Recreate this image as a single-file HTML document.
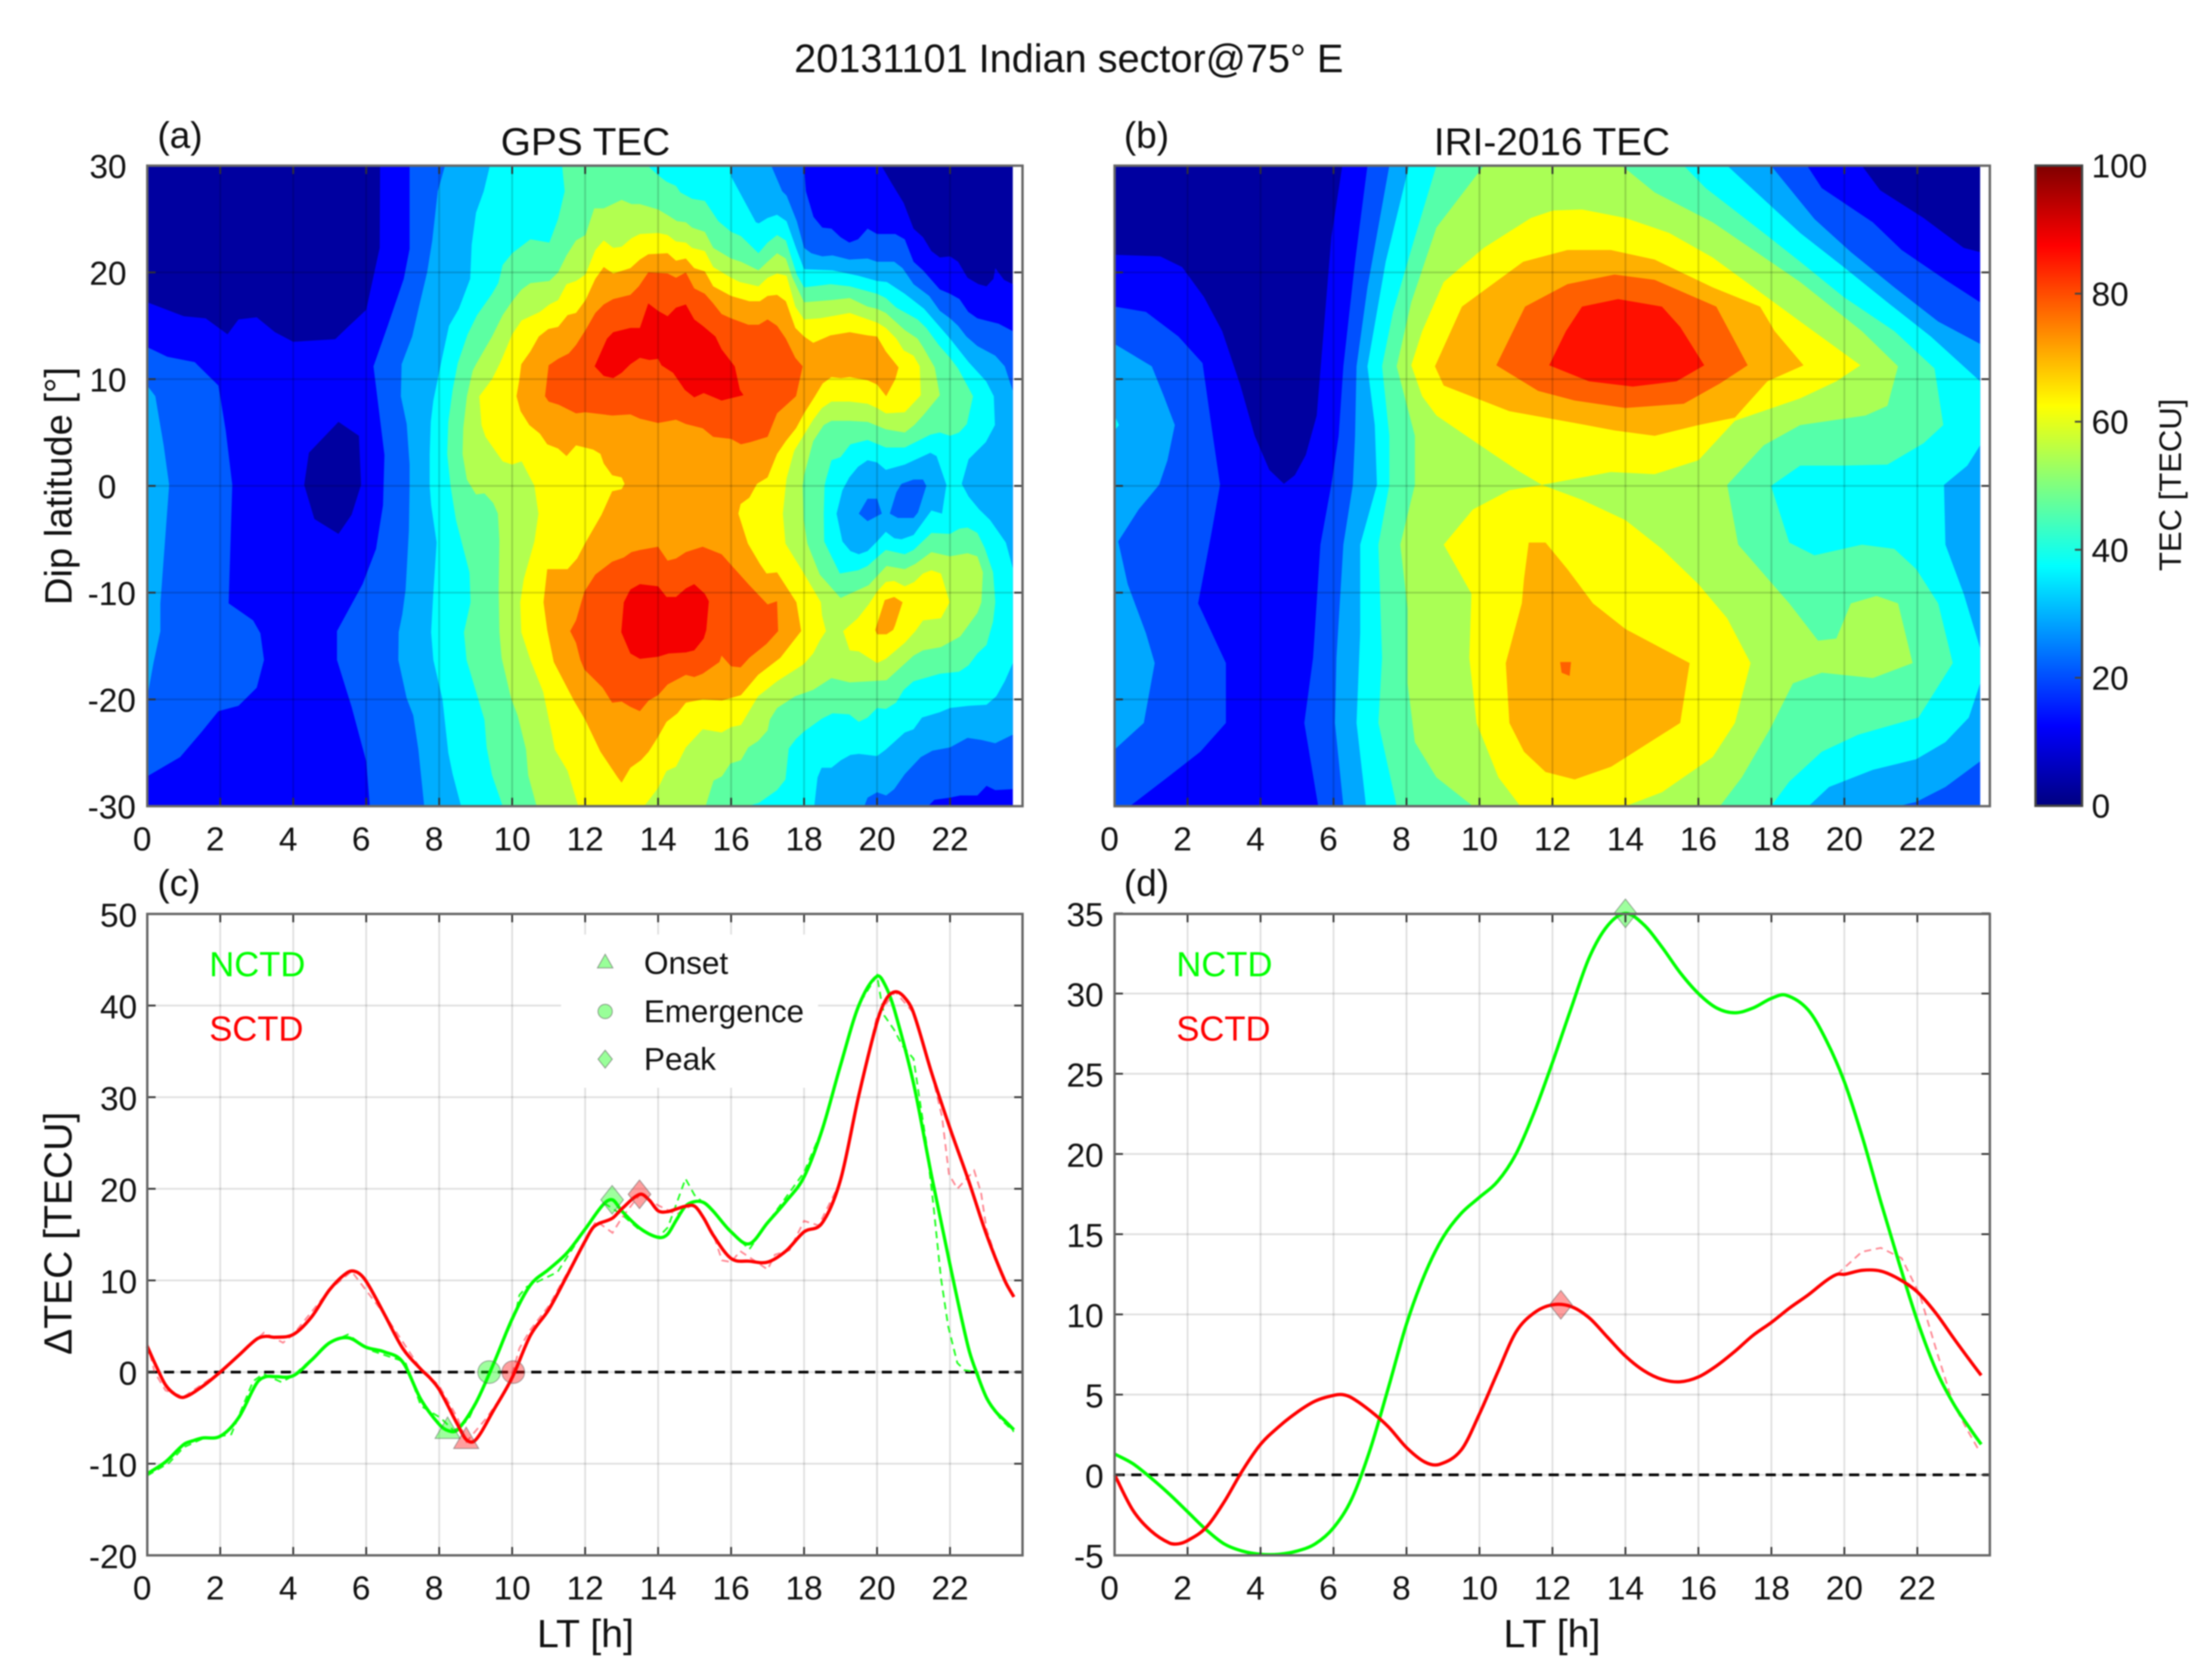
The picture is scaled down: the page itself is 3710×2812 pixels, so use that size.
<!DOCTYPE html>
<html>
<head>
<meta charset="utf-8">
<title>20131101 Indian sector TEC</title>
<style>
html,body{margin:0;padding:0;background:#fff;}
svg{display:block;filter:blur(1px);}
text{font-family:"Liberation Sans",sans-serif;fill:#111;}
</style>
</head>
<body>
<svg id="figure" width="3710" height="2812" viewBox="0 0 3710 2812">
<defs>
<linearGradient id="jetGradient" x1="0" y1="1" x2="0" y2="0">
<stop offset="0" stop-color="#000080"/><stop offset="0.125" stop-color="#0000ff"/><stop offset="0.375" stop-color="#00ffff"/><stop offset="0.625" stop-color="#ffff00"/><stop offset="0.875" stop-color="#ff0000"/><stop offset="1" stop-color="#800000"/>
</linearGradient>
</defs>
<rect width="3710" height="2812" fill="#fff"/>
<text x="1332" y="121" font-size="66.5" fill="#000">20131101 Indian sector@75° E</text>

<g id="panelA"></g>
<g id="panelB"></g>
<g id="panelC"></g>
<g id="panelD"></g>

<text x="264" y="248" font-size="62">(a)</text>
<text x="1885" y="248" font-size="62">(b)</text>
<text x="264" y="1502" font-size="62">(c)</text>
<text x="1885" y="1502" font-size="62">(d)</text>
<text x="982" y="260" font-size="65" text-anchor="middle">GPS TEC</text>
<text x="2603" y="260" font-size="65" text-anchor="middle">IRI-2016 TEC</text>
<text font-size="64" text-anchor="middle" transform="translate(120,815) rotate(-90)">Dip latitude [°]</text>
<text font-size="65.5" text-anchor="middle" transform="translate(120,2068) rotate(-90)">ΔTEC [TECU]</text>
<text x="982" y="2762" font-size="66" text-anchor="middle">LT [h]</text>
<text x="2603" y="2762" font-size="66" text-anchor="middle">LT [h]</text>

<rect x="3414" y="277.7" width="78" height="1073.5" fill="url(#jetGradient)" stroke="#444" stroke-width="4"/>
<g id="colorbarTicks"></g>
<text font-size="52" text-anchor="middle" transform="translate(3658,813) rotate(-90)">TEC [TECU]</text>

<g>
<text x="351" y="1637" font-size="58" style="fill:#00ff00">NCTD</text>
<text x="351" y="1745" font-size="58" style="fill:#ff0000">SCTD</text>
<text x="1973" y="1637" font-size="58" style="fill:#00ff00">NCTD</text>
<text x="1973" y="1745" font-size="58" style="fill:#ff0000">SCTD</text>
</g>
<g>
<polygon points="1015,1600 1028,1623 1002,1623" fill="rgba(0,255,0,.4)" stroke="rgba(90,90,90,.6)" stroke-width="1.5"/>
<circle cx="1015" cy="1696" r="12" fill="rgba(0,255,0,.4)" stroke="rgba(90,90,90,.6)" stroke-width="1.5"/>
<polygon points="1015,1761 1027,1776 1015,1791 1003,1776" fill="rgba(0,255,0,.4)" stroke="rgba(90,90,90,.6)" stroke-width="1.5"/>
<text x="1080" y="1633" font-size="53">Onset</text>
<text x="1080" y="1714" font-size="52.5">Emergence</text>
<text x="1080" y="1794" font-size="53">Peak</text>
</g>
</svg>
<script>
// ---------- axis tick values ----------
const ltTicks = [0,2,4,6,8,10,12,14,16,18,20,22];
const latTicks = [-30,-20,-10,0,10,20,30];
const deltaTicksC = [-20,-10,0,10,20,30,40,50];
const deltaTicksD = [-5,0,5,10,15,20,25,30,35];
const colorbarValues = [0,20,40,60,80,100];

// ---------- contour lines: rings of LT [h], latitude [deg] ----------
const gpsLevel1 = [
 [0,17.2,1,15.9,1.6,15.7,2.2,14.2,2.5,15.6,3,15.8,3.5,14.4,4,13.5,5.15,13.75,5.5,14.9,6,16.5,6.37,22.3,6.38,30,20.12,30,20.41,28.3,20.73,26.5,21,24.1,21.26,23.3,21.49,22,21.72,21.4,22,21.5,22.22,21,22.48,19.5,22.78,18.9,23,18.7,23.19,19.4,23.24,20.4,23.48,19.3,23.72,18.9,23.72,-30,0,-30],
 [5.24,6,5.8,4.7,5.86,0.1,5.6,-2.7,5.24,-4.5,4.58,-3.1,4.3,0.1,4.43,3.1]
];
const gpsLevel2 = [
 [0,13,0.55,12.1,1.3,11.6,1.95,9.4,2.15,5.2,2.33,0.1,2.23,-11,2.9,-12.6,3.1,-13.8,3.2,-16.3,3,-18.9,2.5,-20.6,1.95,-21.1,1.5,-23,0.9,-25.4,0,-27.2],
 [7.19,30,7.19,22.2,7.03,19.4,6.59,15,6.2,11.2,6.5,2.9,6.46,-1.8,6.27,-5.9,5.9,-9.2,5.2,-13.6,5.2,-16.3,5.6,-20.7,6,-25.8,6.1,-30,21.4,-30,21.57,-29.4,22,-29.2,22.28,-29,22.75,-29,23,-28.1,23.24,-28.5,23.72,-28.4,23.72,14.5,23.33,15.2,22.75,15.7,22.5,16.3,22.26,17.5,22,18,21.72,18.4,21.26,20.2,21,21,20.76,23.1,20.5,23.6,20,23.6,19.74,24.1,19.48,23.1,19.24,22.8,19,23.3,18.75,24.1,18.5,24.2,18.26,25.2,18.05,27.6,18,30]
];
const gpsLevel3 = [
 [0,9.4,0.22,8.4,0.45,3.8,0.6,0.1,0.36,-11,0.36,-13.6,0.17,-16.6,0,-19.8],
 [8.16,30,7.96,27.6,7.81,23,7.67,20,7.46,17,7.26,14,6.97,11.4,6.95,8.4,7.11,5.8,7.19,2,7.19,0,7.17,-4.2,7.08,-9.7,6.99,-12,6.89,-13.7,6.88,-16.3,7.11,-19.9,7.29,-21.5,7.43,-24.7,7.59,-30,19.65,-30,19.74,-29.2,20,-28.7,20.25,-29,20.47,-28.4,20.76,-27,21.2,-25.4,21.52,-24.8,22,-24.5,22.48,-23.6,22.86,-23.8,23.24,-24.1,23.72,-23.3,23.72,8.9,23.5,11.2,23.24,12.2,22.75,13.1,22.45,14,22.22,15,22,15.7,21.72,16.4,21.43,17.8,21,18.9,20.82,19.8,20.7,20.4,20.47,21,20,21,19.74,21.3,19.24,21.2,18.78,21.6,18.5,21.5,18.2,21.8,18,22.3,17.8,24.8,17.52,27.2,17.4,27.6,17.1,30],
 [19.74,-1.2,20,-1.2,20.13,-2.6,19.74,-3.3,19.5,-2.6],
 [20.67,0.2,21,0.6,21.26,0.6,21.35,0,21.12,-2.5,21,-3,20.57,-3,20.35,-2.6,20.53,-0.6]
];
const gpsLevel4 = [
 [9.39,30,9.22,27.6,9.01,25.6,8.89,22.6,8.85,19.4,8.54,16.6,8.27,15,8.08,12,7.96,10,7.84,8,7.77,6,7.74,3,7.74,0,7.78,-1.8,7.93,-5.3,7.84,-10,7.78,-13.7,7.84,-16.3,8.09,-20,8.25,-25,8.37,-27,8.6,-30,18.28,-30,18.37,-27.3,18.48,-26.4,18.75,-26.4,19.01,-25.7,19.27,-25.2,19.5,-25.1,20,-25.3,20.24,-24.7,20.76,-23.1,21,-22.8,21.23,-21.7,21.72,-21.2,22,-20.8,22.51,-20.6,23,-20.5,23.27,-19.7,23.5,-18.3,23.72,-16.6,23.72,-7.7,23.53,-5.3,23.1,-3.2,22.8,-2.2,22.51,-1,22.32,0.2,22.51,2.5,22.98,4.1,23.23,5.7,23.2,8.4,22.99,9.8,22.51,11.6,22,13.8,21.29,16.6,20.76,18,20.27,19.1,20,19.2,19.48,19.7,18.78,20.2,18,20.3,17.79,22.2,17.52,24.8,17.26,25.4,17,25.1,16.76,24.6,16.68,24.7,16,29,16,30],
 [19.74,2.4,20,2.2,20.24,1.5,20.76,2,21.46,3.1,21.63,2.8,21.9,0.1,21.78,-2.6,21.49,-2.3,21,-4.6,20.67,-5,20.47,-4.9,20.24,-4.3,20,-5.2,19.74,-6.1,19.5,-6.4,19.27,-6.1,19.05,-5.2,18.89,-2.6,19.05,-0.4,19.24,0.8,19.48,1.8]
];
const gpsLevel5 = [
 [11.37,30,11.44,27.6,11.26,25,11.02,22.8,10.5,23.1,10,21.8,9.74,20.7,9.62,19,9.45,18,9.04,16,8.78,14.2,8.51,11.5,8.37,9,8.25,6,8.22,3,8.31,0,8.46,-3.2,8.83,-8.1,8.86,-10.9,8.68,-13.7,8.75,-16.3,9.24,-21.9,9.3,-24.5,9.45,-27.1,9.74,-30,16.44,-30,16.76,-29.7,17.26,-28.5,17.49,-27.5,17.58,-24.6,17.78,-23.7,18,-23,18.49,-21.8,18.78,-21.3,19.24,-21.4,19.5,-22.1,19.74,-21.7,20,-20.8,20.24,-20.9,20.52,-20.3,20.73,-19.1,21,-18.3,21.72,-17.6,22.25,-17.4,22.51,-16.8,22.75,-15.7,23,-14.9,23.18,-12.7,23.24,-10.9,23.18,-8.1,22.95,-5.8,22.75,-4.4,22.48,-3.9,22.26,-4,22,-4.5,21.49,-4.4,21,-6,20.76,-6.4,20.24,-6,20,-6.7,19.74,-7.5,19.48,-7.9,18.98,-8.2,18.55,-5.2,18.54,-2.6,18.56,0,18.6,0.6,18.75,2.4,19,2.7,19.27,3.9,19.74,4.3,20.24,3.6,20.76,3.6,21.46,4.8,21.72,5,22,4.7,22.25,5,22.46,5.8,22.63,8.4,22.22,11,22,12,21.69,13.2,21.35,14.8,21.11,15.6,20.53,16.7,20.24,17.6,20,18,19.25,18.7,18.73,18.9,18,18.6,17.8,19.8,17.5,23,17.26,23.5,17,22.8,16.75,21.8,16.27,23.4,16,23.8,15.65,24.8,15.28,26.7,14.93,26.9,14.61,27.5,14.49,28.1,14.23,28.5,14,29.1,13.71,30]
];
const gpsLevel6 = [
 [12.25,26,12.01,23.5,11.75,23,11.49,21.6,11.26,20,11.02,19.2,10.5,19,10.26,18.4,10,17.3,9.74,16,9.45,14,9.01,11.4,8.92,10.8,8.76,8.4,8.66,5.4,8.64,3,8.76,0.6,9.01,-0.8,9.24,-0.7,9.48,-1.6,9.61,-2.6,9.65,-5.1,9.63,-9.9,9.65,-13.7,9.71,-16.1,9.97,-19.9,10.15,-21.5,10.38,-24.7,10.44,-27.1,10.67,-30,15.3,-30,15.52,-27.6,15.75,-27.2,15.98,-26,16.27,-25.7,16.47,-24.5,16.74,-23.9,17,-22.9,17.06,-21.9,17.26,-20.8,17.76,-19.7,18.25,-19.1,18.75,-18,19.25,-18.4,20.26,-18.2,21,-15.9,21.26,-15.4,21.75,-15.1,22.28,-14.1,22.75,-11.9,22.86,-10.9,22.9,-8.1,22.75,-6.6,22.48,-6.3,22,-6.6,21.49,-6.2,21.05,-7.3,20.76,-7.8,20.26,-7.5,19.77,-9.3,19,-10.5,18.43,-8.3,18.09,-5.4,17.99,-3.2,17.96,0,18,1,18.25,4.2,18.54,5.7,18.75,6.1,19.25,6.1,19.74,6,20.24,5.3,20.76,5,21.02,5.7,21.26,6.6,21.72,8.5,21.58,11.1,21.26,13,21.11,13.8,20.76,14.6,20.24,16.2,20,16.6,19.74,16.8,19.25,17.6,18.73,17.4,18,17.2,17.67,19.6,17.5,21.3,17.26,21.8,17,21,16.75,20.2,16.27,21,16,21.3,15.51,22.3,15.28,23.8,14.93,24.2,14.76,24.7,14.52,24.8,14.29,25.3,14,25.9,13.5,26.4,13.27,26.4,13,26.8,12.51,26]
];
const gpsLevel7 = [
 [12.28,22.1,12.01,19.8,11.75,19.2,11.49,18.9,11.26,17.4,11.02,17,10.76,16.3,10.26,15.5,10,14.2,9.68,11.6,9.45,10,9.1,8.4,9.16,5.7,9.27,4.6,9.74,2.3,10,2,10.26,2.3,10.61,0,10.72,-2.6,10.61,-5.2,10.32,-8.7,10.22,-10.9,10.25,-13.7,10.5,-16.3,10.85,-19.3,11.08,-23.1,11.17,-24.7,11.52,-26.7,11.81,-30,13.62,-30,14,-28.3,14.23,-26.7,14.49,-26.3,14.76,-24.5,15.22,-22.8,15.74,-23.1,16,-22.6,16.27,-22.4,16.74,-19.7,17.26,-18.3,17.99,-16.7,18.25,-15.7,18.43,-14.5,18.6,-13.6,18.49,-12.1,18.46,-10.9,17.96,-8,17.49,-5.4,17.42,-2.6,17.49,-0.2,17.52,0.7,17.73,3.3,18,4.8,18.25,6.2,18.49,7.3,18.75,7.9,19.25,7.9,19.74,7.7,20,7.3,20.24,6.8,20.76,6.9,21.2,8.5,21.17,11.2,21,12.2,20.73,12.7,20.53,13.8,20.24,14.8,20,15.3,19.25,16.2,18.43,15.7,18,15.6,17.76,16.8,17.52,19.7,17.26,19.9,17,19.5,16.75,18.7,16.24,19.1,16,19.5,15.51,20.5,15.28,22,14.93,22.3,14.76,22.8,14.49,22.9,14.26,23.5,14,23.7,13.5,23.6,13.27,23.2,13,22.4,12.77,22.3,12.51,23],
 [19.07,-13.6,19.25,-15.4,19.5,-15.5,20,-16.6,20.24,-16.2,20.76,-14.7,21.05,-13.6,21.26,-12.6,21.75,-12.4,21.99,-10.9,21.75,-8.2,21.49,-7.9,21.26,-8.2,21.02,-9,20.76,-9.4,20.47,-8.9,20.24,-9,20,-9.9,19.77,-11.1,19.47,-12.4]
];
const gpsLevel8 = [
 [12.51,20.5,12.28,19.4,12.01,17.4,11.75,16.2,11.52,16,11.26,14.9,10.99,14.7,10.73,14,10.5,12.6,10.25,11.4,10.2,10,10.12,8.4,10.23,7,10.47,5.7,10.76,4.9,10.96,3.9,11.26,3.5,11.49,2.8,11.75,3.8,12.22,3.4,12.42,3,12.51,2.1,12.74,1,13,0.8,13.08,0.2,13,-0.3,12.74,-0.5,12.45,-2.7,12.01,-5.3,11.78,-6.8,11.52,-7.8,10.96,-7.8,10.86,-10.9,10.96,-13.5,11.14,-16.5,11.69,-20.1,12,-21.9,12.42,-24.9,12.89,-27.3,13,-27.8,13.24,-26.4,13.53,-25.7,13.74,-24.9,14,-23.5,14.23,-22.1,14.53,-21.3,14.76,-20.3,15.22,-20,15.75,-20.1,16.27,-19.6,16.74,-17.7,17.35,-16.1,17.92,-13.6,17.79,-10.9,17.26,-8.1,16.97,-8.2,16.79,-7.3,16.46,-5.4,16.2,-2.6,16.26,-1.7,16.5,-1.1,16.71,0.2,17,0.8,17.26,3,17.5,4.2,17.78,5.4,18,6.8,18.28,8.3,18.51,9.6,18.75,10.2,19.01,10.1,19.25,10.2,19.74,9.9,20,9.5,20.25,8.4,20.5,10,20.59,11.1,20.24,12.6,20,14,19.74,14.1,19.25,14.4,18.72,14.1,18.25,13.4,18,14,17.76,14.8,17.5,17.3,17.26,17.9,17,17.8,16.79,17.3,16.5,17.3,16,17.8,15.51,18.7,15.28,20.1,14.99,20.4,14.76,21.3,14.49,21.1,14.26,21.8,13.73,21.7,13.5,21.2,13.24,20.4,12.77,19.9],
 [20.21,-10.7,20.47,-10.4,20.7,-10.9,20.49,-13.1,20.44,-13.5,20.26,-13.9,20,-13.9,19.95,-13.5]
];
const gpsLevel9 = [
 [11,11.3,11.26,11.9,11.55,12.4,11.75,13.2,12.01,14.6,12.28,16.2,12.51,17,12.77,17.5,13.24,17.9,13.47,18.7,13.73,20,14.26,19.9,14.49,19.5,14.76,20,14.99,18.5,15.28,18,15.51,17.1,15.74,16.1,16,15.7,16.47,15.1,16.76,15.1,17,15.6,17.26,15,17.5,13.8,17.76,12,17.96,11.2,17.78,8.4,17.26,6.8,17,4.6,16.53,4.1,16.27,3.9,16,4.4,15.51,4.6,15.22,5.4,14.76,5.8,14.49,6.2,14,5.9,13.5,6.3,13.24,6.7,12.74,6.6,12,6.9,11.75,6.8,11.28,7.6,11,7.9,10.9,8.4],
 [14,-5.7,14.26,-7,14.49,-6.8,14.76,-6.2,15.22,-5.7,15.74,-6.4,16,-7.4,16.5,-9.3,17,-11.1,17.26,-10.8,17.29,-13.6,16.97,-14.8,16.5,-16.1,16.26,-17,16,-16.9,15.74,-15.9,15.68,-16.5,15.22,-17.6,14.99,-17.9,14.76,-17.7,14.26,-18.6,14,-19.6,13.74,-20.1,13.5,-21.1,13.24,-20.7,13,-20.2,12.74,-20.3,12.48,-18.9,11.98,-17.2,11.87,-16.3,11.75,-14.7,11.59,-13.6,11.75,-12.6,11.98,-9.9,12.28,-8.3,12.74,-7.1,13.06,-6.7,13.27,-6.2,13.5,-6]
];
const gpsLevel10 = [
 [12.26,11.2,12.6,13.8,12.77,14.4,13.24,14.8,13.5,14.8,13.73,17.1,14,16.4,14.26,15.9,14.49,16.7,14.76,17,14.99,15.6,15.22,15,15.57,14,15.74,12.8,16.1,11.2,16.24,9,16.34,8.5,15.74,8,15.25,8.7,14.99,8.3,14.73,9,14.41,10.6,14.09,11.3,14,11.9,13.76,11.8,13.5,12,13.24,11.4,13,10.6,12.77,10.1,12.51,10.3],
 [13.5,-9.2,14,-9.4,14.23,-10.4,14.49,-10.4,14.76,-9.6,14.99,-9.2,15.28,-10.1,15.39,-10.8,15.32,-13.5,15.25,-14.3,14.99,-15.4,14.76,-15.6,14.29,-15.7,14,-16,13.5,-16.2,13.24,-15.7,12.99,-13.7,13.06,-10.9,13.24,-9.7]
];

const iriLevel1 = [
 [0,21.65,1.25,21.5,1.85,20.5,2.45,17.7,2.95,14.5,3.45,9.4,3.84,4.7,4.24,1.5,4.64,0.2,4.94,1,5.24,2.9,5.54,6.6,5.64,10.8,5.94,23.3,6.24,30,20.48,30,20.98,27.7,22.17,25.1,23.27,22.3,23.72,21.9,23.72,-30,0,-30]
];
const iriLevel2 = [
 [0,16.8,0.86,16.3,1.75,14,2.41,11.5,2.65,5.7,2.89,0.1,2.65,-4.5,2.29,-11,3.05,-16.6,3.05,-22.2,2.35,-24.9,1.45,-27.3,0.42,-30,0,-30],
 [6.93,30,6.59,21,6.27,11.2,6.14,4.7,5.94,0.1,5.64,-5.5,5.44,-16.1,5.2,-22.2,5.58,-30,23.72,-30,23.72,17.2,22.77,19.3,21.57,22.1,20.78,24.7,19.38,27.9,18.98,30]
];
const iriLevel3 = [
 [0,13.3,1.02,11.2,1.35,8.4,1.65,5.7,1.45,2.4,1.22,0.1,0.66,-2.2,0.1,-5.2,0.36,-9.2,0.86,-13.8,1.1,-16.6,0.8,-22.2,0,-24.7],
 [7.53,30,6.93,18.6,6.63,11.2,6.59,4.7,6.53,0.1,6.27,-5.5,6.08,-16.1,6.04,-22.2,6.27,-30,21.47,-30,21.97,-29.6,22.77,-28.2,23.72,-25.8,23.72,13.3,22.57,15.4,21.37,18.6,20.18,21.9,19.18,25,17.99,30]
];
const iriLevel4 = [
 [0,6.6,0.12,5.7,0,5.2],
 [8.07,30,7.43,21,6.93,11.2,7.13,5.7,7.19,0.1,6.73,-5.5,6.73,-13.8,6.63,-22.2,6.89,-30,19.02,-30,19.58,-28.2,20.78,-26.6,21.97,-25.6,22.77,-24,23.41,-21.7,23.72,-18.5,23.72,-15.2,23.27,-10.1,22.77,-5.5,22.73,0.1,23.37,1.9,23.72,3.8,23.72,9.8,22.37,14,21.18,17.2,19.98,20.5,18.79,23.7,16.79,30]
];
const iriLevel5 = [
 [8.82,30,8.23,23.3,7.63,16.3,7.33,11.2,7.53,4.7,7.53,0.1,7.23,-5.5,7.33,-16.1,7.23,-22.2,7.73,-30,17.99,-30,18.49,-27.7,19.38,-24.9,20.38,-23.3,22.03,-21.7,22.97,-16.6,22.57,-11,21.97,-7.8,21.37,-5.9,20.48,-5.5,19.18,-6.5,18.49,-5.3,17.99,0,18.79,1.9,19.98,1.9,21.18,2,22.17,4,22.71,5.7,22.47,11,21.37,14.5,19.98,17.7,18.79,21,17.79,23.7,16.2,27.9,15.6,30]
];
const iriLevel6 = [
 [10.12,30,8.82,24.2,8.13,17.2,7.73,11.2,8.23,4.7,8.23,0.1,7.83,-5.5,8.03,-11.5,8.03,-18.5,8.23,-24,8.82,-27.3,9.82,-30,16.59,-30,17.19,-27.3,17.99,-22.6,18.59,-18.5,19.38,-17.5,20.78,-18,21.87,-16.6,21.47,-11,20.88,-10.3,20.18,-11,19.78,-14.3,19.28,-14.5,18.49,-11,17.09,-5.5,16.79,0.1,17.79,3.8,18.79,5.7,20.58,6.6,21.18,7.5,21.47,11.2,20.48,14.5,18.79,19.1,17.59,21.9,16.39,24.7,14.8,27.5,13.9,30]
];
const iriLevel7 = [
 [10.12,22.3,11.41,25.1,12.01,25.8,12.81,25.9,14,25.1,15.2,23.7,16.39,21.4,18.79,15.4,20.44,11.3,19.78,9.8,18.79,8.2,17,6.1,16,2.4,14.8,1.1,13.6,1.3,11.71,0.1,11.02,1.5,10.02,3.8,8.82,6.6,8.43,8.4,8.13,11.3,8.43,14.5,9.02,19.1],
 [10.82,-0.4,11.71,0.1,12.81,-1.3,14,-3.2,15,-5.9,16,-9.2,16.79,-12.4,17.43,-16.6,17,-22.2,16.39,-25.4,15,-28.7,14,-30,11.12,-30,10.52,-27.3,9.92,-22.2,9.72,-16.1,9.78,-10.1,9.02,-5.5,9.82,-2.2]
];
const iriLevel8 = [
 [8.78,11.2,9.52,16.8,11.2,21,12.41,22.1,13.6,22.1,14.8,21.2,16.39,18.6,17.69,16.8,18.09,14.5,18.88,11.3,17.89,9.8,17,6.4,16,5.7,14.8,4.7,13.7,5.2,12.61,5.9,10.82,7,9.02,9.4],
 [11.35,-5.3,11.81,-5.3,12.41,-7.8,13.11,-11,14,-13.4,15.76,-16.6,15.5,-22.2,13.61,-26.3,12.61,-27.5,11.81,-26.8,11.22,-24.9,10.82,-22.2,10.72,-16.6,11.16,-11,11.22,-8.7]
];
const iriLevel9 = [
 [10.46,11.3,11.25,16.8,12.41,18.9,13.7,19.8,14.8,19.3,16.49,16.8,17.35,11.3,16.59,9.6,15.6,7.7,14,7.3,12.61,8,11.61,8.9],
 [12.21,-16.5,12.51,-16.5,12.47,-17.8,12.25,-17.5]
];
const iriLevel10 = [
 [11.91,11.3,12.37,14.5,12.81,16.8,13.8,17.5,15,16.8,15.5,14.9,16.16,11.3,15.4,9.8,14.2,9.3,13,9.8]
];

// ---------- delta TEC curves: [LT h, TECU] ----------
const nctdSmoothC = [[0,-11.1],[0.5,-9.8],[1,-7.9],[1.25,-7.5],[1.5,-7.2],[2,-7],[2.5,-5],[3,-1.2],[3.25,-0.5],[3.5,-0.5],[4,-0.4],[4.5,1.3],[5,3.2],[5.5,3.75],[6,2.7],[6.5,2.2],[7,1.1],[7.5,-3],[8,-5.7],[8.25,-6.4],[8.5,-6.3],[9,-3.4],[9.5,1],[10,5.8],[10.5,9.5],[11,11.2],[11.5,13],[12,15.6],[12.5,18.3],[12.75,18.8],[13,17.6],[13.5,15.7],[14,14.7],[14.25,15],[14.5,16.6],[14.75,18.1],[15,18.6],[15.25,18.5],[15.5,17.6],[16,15.3],[16.5,14],[17,16.3],[17.5,18.6],[18,21.3],[18.5,26.5],[19,33.5],[19.5,40],[20,43.2],[20.25,42],[20.5,39.2],[21,31.5],[21.5,21.3],[22,11.7],[22.5,2.7],[22.75,-0.3],[23,-2.8],[23.25,-4.3],[23.5,-5.3],[23.75,-6.3]];
const sctdSmoothC = [[0,2.8],[0.25,0.6],[0.5,-1.4],[0.75,-2.4],[1,-2.75],[1.5,-1.6],[2,0],[2.5,1.8],[3,3.6],[3.25,3.9],[3.5,3.8],[4,4.1],[4.5,6],[5,9],[5.5,10.9],[5.75,10.9],[6,9.9],[6.5,6.3],[7,2.6],[7.5,0.3],[7.75,-0.65],[8,-1.9],[8.5,-5.7],[8.75,-7.4],[9,-7.4],[9.5,-4.1],[10,-0.6],[10.5,4],[11,6.8],[11.5,10.5],[12,14.3],[12.25,15.9],[12.75,16.8],[13,17.8],[13.5,19.4],[13.75,18.8],[14,17.6],[14.25,17.5],[14.5,17.8],[14.75,18.1],[15,18.1],[15.25,16.8],[15.5,15],[16,12.4],[16.5,12.1],[17,12],[17.5,13.2],[18,15.3],[18.5,16.3],[19,21],[19.5,30.2],[20,38.2],[20.25,40.7],[20.5,41.5],[20.75,40.9],[21,39.2],[21.5,32.6],[22,26.6],[22.5,21],[23,15],[23.5,10],[23.75,8.2]];
const nctdRawC = [[0,-11.3],[0.6,-9.9],[1,-8.2],[1.5,-7.3],[2,-7],[2.3,-6.8],[2.9,-1],[3.18,-0.2],[3.68,-1.1],[4,-0.4],[5,3.2],[5.5,4.1],[6.1,2.4],[7.07,1.1],[7.5,-3.7],[8.04,-5],[8.4,-6.4],[8.8,-5.2],[9.5,1],[10.1,6.5],[10.2,8.4],[10.4,9.3],[11.24,10.9],[12,15.6],[12.5,18.5],[13,17.2],[13.5,15.5],[14,14.7],[14.27,15.8],[14.75,21.1],[15,19.3],[15.5,17.6],[16,15.3],[16.5,13.4],[17,16.3],[18,21.8],[18.5,26.5],[19,33.7],[19.5,40.1],[20,43.3],[20.1,40.9],[20.2,38.9],[20.46,37.4],[20.7,35.6],[21,34.2],[21.2,28.9],[21.35,25],[21.55,18],[21.75,10.3],[21.95,5],[22.2,1],[22.4,0.2],[22.75,0],[23,-3],[23.4,-5.2],[23.75,-6.5]];
const sctdRawC = [[0,3.2],[0.2,0],[0.5,-2],[1,-2.7],[2,0],[3,3.6],[3.2,4.3],[3.72,3.2],[4,4.1],[5,9],[5.6,11],[6.5,6.3],[7.5,0.3],[8,-1.5],[8.5,-5],[8.75,-7.6],[9.3,-5],[9.9,-1.6],[10.2,2.6],[10.5,4.6],[11,7.2],[12,14.3],[12.3,16.5],[12.75,15.2],[13,16.8],[13.5,19.4],[14,18.2],[14.5,17.2],[15,18.4],[15.5,15.2],[15.75,12.2],[16,12],[16.25,13.2],[17,11.2],[17.2,12.8],[17.6,13.3],[18,16.5],[18.4,16],[19,20.8],[19.5,30],[20,38.9],[20.5,41.5],[21,39.2],[21.5,32.6],[21.78,27.9],[21.97,21.6],[22.2,20],[22.66,22],[22.85,19.6],[23,15.6],[23.4,10.7],[23.75,8.2]];
const nctdSmoothD = [[0,1.3],[0.5,0.7],[1,-0.2],[1.5,-1.2],[2,-2.3],[2.5,-3.4],[3,-4.3],[3.5,-4.75],[4,-4.95],[4.5,-4.95],[5,-4.75],[5.5,-4.3],[6,-3.3],[6.5,-1.5],[7,1.55],[7.5,5.4],[8,9.4],[8.5,12.5],[9,14.8],[9.5,16.3],[10,17.3],[10.5,18.3],[11,20],[11.5,22.6],[12,25.7],[12.5,29],[13,32.2],[13.5,34.2],[14,35],[14.5,34.3],[15,32.9],[15.5,31.3],[16,30],[16.5,29.1],[17,28.8],[17.5,29.1],[18,29.7],[18.4,29.9],[19,29],[19.5,27.1],[20,24.5],[20.5,21],[21,17],[21.5,13.2],[22,9.6],[22.5,6.6],[23,4.4],[23.5,2.7],[23.75,1.9]];
const sctdSmoothD = [[0,0],[0.5,-2.2],[1,-3.5],[1.5,-4.25],[1.75,-4.3],[2,-4.1],[2.5,-3.3],[3,-1.7],[3.5,0.25],[4,1.9],[4.5,3],[5,3.9],[5.5,4.6],[6,4.95],[6.25,5],[6.5,4.8],[7,4],[7.5,3],[8,1.7],[8.5,0.8],[8.9,0.65],[9.5,1.55],[10,3.8],[10.5,6.4],[11,8.9],[11.5,10.1],[12,10.6],[12.5,10.5],[13,9.8],[13.5,8.6],[14,7.4],[14.5,6.5],[15,5.95],[15.5,5.8],[16,6.1],[16.5,6.8],[17,7.7],[17.5,8.7],[18,9.5],[18.5,10.4],[19,11.2],[19.5,12.1],[19.8,12.5],[20,12.5],[20.5,12.75],[21,12.7],[21.5,12.2],[22,11.4],[22.5,10.1],[23,8.5],[23.5,6.95],[23.75,6.2]];
const sctdRawD = [[19.8,12.5],[20.48,13.9],[21,14.15],[21.57,13.5],[22.07,11.2],[22.57,7.4],[22.97,4.5],[23.37,2.8],[23.67,1.6]];

// ---------- detected event markers: [LT h, TECU] ----------
const nctdOnsetC = [8.23,-6.4];
const sctdOnsetC = [8.74,-7.5];
const nctdEmergenceC = [9.37,0];
const sctdEmergenceC = [10.03,0];
const nctdPeakC = [12.74,18.8];
const sctdPeakC = [13.49,19.4];
const nctdPeakD = [14,35];
const sctdPeakD = [12.23,10.6];

// ---------- palette and axes ----------
const gpsPalette = ['#0000a0','#0000ff','#005cff','#00aeff','#00ffff','#5cffa2','#b2ff50','#ffff00','#ffa000','#ff5000','#f50000'];
const iriPalette = ['#0000a0','#0000ff','#0050ff','#00a8ff','#00ffff','#55ffaa','#aaff55','#ffff00','#ffb000','#ff6000','#ff1000'];
const gpsBands = [gpsLevel1,gpsLevel2,gpsLevel3,gpsLevel4,gpsLevel5,gpsLevel6,gpsLevel7,gpsLevel8,gpsLevel9,gpsLevel10];
const iriBands = [iriLevel1,iriLevel2,iriLevel3,iriLevel4,iriLevel5,iriLevel6,iriLevel7,iriLevel8,iriLevel9,iriLevel10];

const NS = document.getElementById('figure').namespaceURI;
function make(tag, attrs, parent, text){
  const el = document.createElementNS(NS, tag);
  for (const k in attrs) el.setAttribute(k, attrs[k]);
  if (text !== undefined) el.textContent = text;
  parent.appendChild(el);
  return el;
}
const xLeft = h => 247 + 61.2*h;
const xRight = h => 1869.4 + 61.2*h;
const yLat = v => 814.8 - 17.9*v;
const yDeltaC = v => 2300.7 - 15.364*v;
const yDeltaD = v => 2473 - 26.9*v;
const yColor = v => 1351.2 - 10.735*v;
const AXW = 1468;

function drawContours(parent, x, y, bands, palette, name){
  const base = make('rect',{x:x(0),y:y(30),width:x(23.72)-x(0),height:y(-30)-y(30),fill:palette[0]},parent);
  
  
  bands.forEach((rings,i)=>{
    let d='';
    rings.forEach(r=>{
      for(let k=0;k<r.length;k+=2){ d+=(k?'L':'M')+x(r[k]).toFixed(1)+' '+y(r[k+1]).toFixed(1); }
      d+='Z';
    });
    const band = make('path',{d:d,fill:palette[i+1],'fill-rule':'evenodd'},parent);
    
    
  });
}
function drawAxes(parent, x, y, top, bottom, yTicks, gridColor, gridWidth, name){
  const left=x(0), right=left+AXW;
  ltTicks.forEach(t=>{
    if(t>0){
      const g=make('line',{x1:x(t),x2:x(t),y1:top,y2:bottom,stroke:gridColor,'stroke-width':gridWidth},parent);
      
      
    }
  });
  yTicks.forEach(t=>{
    const g=make('line',{x1:left,x2:right,y1:y(t),y2:y(t),stroke:gridColor,'stroke-width':gridWidth},parent);
    
    
  });
}
function drawFrame(parent, x, y, top, bottom, yTicks, name){
  const left=x(0), right=left+AXW;
  let d='';
  ltTicks.forEach(t=>{ d+='M'+x(t)+' '+bottom+'v-14M'+x(t)+' '+top+'v14'; });
  yTicks.forEach(t=>{ d+='M'+left+' '+y(t)+'h14M'+right+' '+y(t)+'h-14'; });
  const ticks=make('path',{d:d,stroke:'#333','stroke-width':3,fill:'none'},parent);
  
  
  const frame=make('rect',{x:left,y:top,width:AXW,height:bottom-top,fill:'none',stroke:'#666','stroke-width':4},parent);
  
  
}
function drawXLabels(parent, x, baseline, name){
  ltTicks.forEach(t=>{
    const shift = t<10 ? -8.5 : 0;
    const lab=make('text',{x:x(t)+shift,y:baseline,'font-size':56,'text-anchor':'middle'},parent,String(t));
    
    
  });
}
function smoothPath(points, x, y){
  const n=points.length;
  const slope=i=>{
    const a=points[Math.max(0,i-1)], b=points[Math.min(n-1,i+1)];
    return (b[1]-a[1])/(b[0]-a[0]);
  };
  let d='M'+x(points[0][0]).toFixed(1)+' '+y(points[0][1]).toFixed(1);
  for(let i=0;i<n-1;i++){
    const p=points[i], q=points[i+1], dx=(q[0]-p[0])/3;
    const c1=[p[0]+dx,p[1]+slope(i)*dx], c2=[q[0]-dx,q[1]-slope(i+1)*dx];
    d+='C'+x(c1[0]).toFixed(1)+' '+y(c1[1]).toFixed(1)+' '+x(c2[0]).toFixed(1)+' '+y(c2[1]).toFixed(1)+' '+x(q[0]).toFixed(1)+' '+y(q[1]).toFixed(1);
  }
  return d;
}
function linePath(points, x, y){
  return points.map((p,i)=>(i?'L':'M')+x(p[0]).toFixed(1)+' '+y(p[1]).toFixed(1)).join('');
}
const GREEN_FILL='rgba(0,255,0,.38)', RED_FILL='rgba(255,0,0,.38)', MARK_EDGE='rgba(90,90,90,.55)';
function triangle(parent, x, y, p, fill){
  const cx=x(p[0]), cy=y(p[1]);
  return make('polygon',{points:cx+','+(cy-23)+' '+(cx+21)+','+(cy+13)+' '+(cx-21)+','+(cy+13),fill:fill,stroke:MARK_EDGE,'stroke-width':1.5},parent);
}
function circle(parent, x, y, p, fill){
  return make('circle',{cx:x(p[0]),cy:y(p[1]),r:19,fill:fill,stroke:MARK_EDGE,'stroke-width':1.5},parent);
}
function diamond(parent, x, y, p, fill){
  const cx=x(p[0]), cy=y(p[1]);
  return make('polygon',{points:cx+','+(cy-24)+' '+(cx+19)+','+cy+' '+cx+','+(cy+24)+' '+(cx-19)+','+cy,fill:fill,stroke:MARK_EDGE,'stroke-width':1.5},parent);
}

// ---------- panel a ----------
const panelA=document.getElementById('panelA');
drawContours(panelA,xLeft,yLat,gpsBands,gpsPalette,'gps-tec');
drawAxes(panelA,xLeft,yLat,277.8,1351.8,latTicks,'rgba(0,0,0,.16)',3,'panel-a');
drawFrame(panelA,xLeft,yLat,277.8,1351.8,latTicks,'panel-a');
drawXLabels(panelA,xLeft,1426,'panel-a');
latTicks.forEach(t=>{
  const lab=make('text',{x:t===0?164:(t>0?150:147),y:yLat(t)+20.5,'font-size':56},panelA,String(t));
  
  
});

// ---------- panel b ----------
const panelB=document.getElementById('panelB');
drawContours(panelB,xRight,yLat,iriBands,iriPalette,'iri-tec');
drawAxes(panelB,xRight,yLat,277.8,1351.8,latTicks,'rgba(0,0,0,.16)',3,'panel-b');
drawFrame(panelB,xRight,yLat,277.8,1351.8,latTicks,'panel-b');
drawXLabels(panelB,xRight,1426,'panel-b');

// ---------- colorbar ticks ----------
const cbTicks=document.getElementById('colorbarTicks');
colorbarValues.forEach(v=>{
  if(v>0&&v<100){
    const tk=make('line',{x1:3480,x2:3492,y1:yColor(v),y2:yColor(v),stroke:'#444','stroke-width':3},cbTicks);
    
    
  }
  const lab=make('text',{x:3508,y:yColor(v)+20,'font-size':56},cbTicks,String(v));
  
  
});

// ---------- line panels ----------
function drawLinePanel(parent,x,y,yTicks,name,series,markers){
  drawAxes(parent,x,y,1532.5,2608,yTicks,'rgba(0,0,0,.12)',3,name);
  if(name==='panel-c'){
    const box=make('rect',{x:941,y:1567,width:431,height:257,fill:'#fff'},parent);
    
    
  }
  const zero=make('line',{x1:x(0),x2:x(0)+AXW,y1:y(0),y2:y(0),stroke:'#000','stroke-width':4.5,'stroke-dasharray':'17 11'},parent);
  
  
  series.forEach(s=>{
    const attrs=s.dashed
      ?{d:linePath(s.points,x,y),fill:'none',stroke:s.color,'stroke-width':3,'stroke-dasharray':'12 8'}
      :{d:smoothPath(s.points,x,y),fill:'none',stroke:s.color,'stroke-width':5.5,'stroke-linejoin':'round'};
    const el=make('path',attrs,parent);
    
    
  });
  markers.forEach(m=>{
    const el=m.shape(parent,x,y,m.point,m.fill);
    
    
  });
  drawFrame(parent,x,y,1532.5,2608,yTicks,name);
  drawXLabels(parent,x,2682,name);
  const labelEnd=name==='panel-c'?230:1851;
  yTicks.forEach(t=>{
    const lab=make('text',{x:labelEnd,y:y(t)+21.5,'font-size':56,'text-anchor':'end'},parent,String(t));
    
    
  });
}
drawLinePanel(document.getElementById('panelC'),xLeft,yDeltaC,deltaTicksC,'panel-c',[
  {points:nctdRawC,color:'#20ff20',dashed:true,name:'nctd-raw-line-c'},
  {points:sctdRawC,color:'rgba(255,40,60,.55)',dashed:true,name:'sctd-raw-line-c'},
  {points:nctdSmoothC,color:'#00ff00',name:'nctd-smooth-line-c'},
  {points:sctdSmoothC,color:'#ff0000',name:'sctd-smooth-line-c'}
],[
  {shape:triangle,point:nctdOnsetC,fill:GREEN_FILL,name:'nctd-onset-marker-c'},
  {shape:triangle,point:sctdOnsetC,fill:RED_FILL,name:'sctd-onset-marker-c'},
  {shape:circle,point:nctdEmergenceC,fill:GREEN_FILL,name:'nctd-emergence-marker-c'},
  {shape:circle,point:sctdEmergenceC,fill:RED_FILL,name:'sctd-emergence-marker-c'},
  {shape:diamond,point:nctdPeakC,fill:GREEN_FILL,name:'nctd-peak-marker-c'},
  {shape:diamond,point:sctdPeakC,fill:RED_FILL,name:'sctd-peak-marker-c'}
]);
drawLinePanel(document.getElementById('panelD'),xRight,yDeltaD,deltaTicksD,'panel-d',[
  {points:sctdRawD,color:'rgba(255,40,60,.55)',dashed:true,name:'sctd-raw-line-d'},
  {points:nctdSmoothD,color:'#00ff00',name:'nctd-smooth-line-d'},
  {points:sctdSmoothD,color:'#ff0000',name:'sctd-smooth-line-d'}
],[
  {shape:diamond,point:nctdPeakD,fill:GREEN_FILL,name:'nctd-peak-marker-d'},
  {shape:diamond,point:sctdPeakD,fill:RED_FILL,name:'sctd-peak-marker-d'}
]);
</script>
</body>
</html>
